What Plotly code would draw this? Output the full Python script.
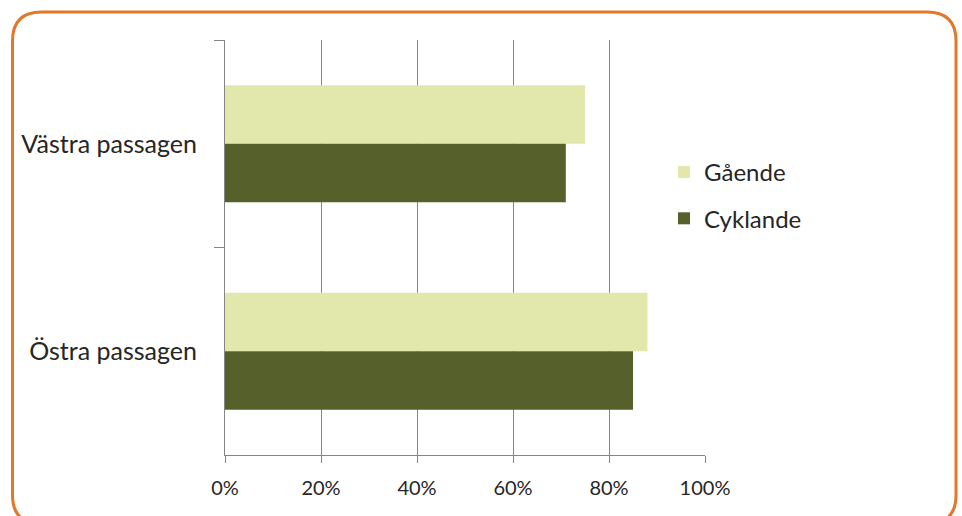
import plotly.graph_objects as go

categories = ["Västra passagen", "Östra passagen"]
gaende = [0.75, 0.88]
cyklande = [0.71, 0.85]
series_names = ["Gående", "Cyklande"]
colors = ["#e2e8ab", "#56602a"]
x_ticks = [0, 0.2, 0.4, 0.6, 0.8, 1.0]

W, H = 962, 516
L, R, T, B = 225, 705, 40, 455  # plot area in px

FONT = "Lato"
TXT = "#262626"
GRID = "#858585"

fig = go.Figure()
for name, vals, col in zip(series_names, [gaende, cyklande], colors):
    fig.add_trace(go.Bar(
        y=categories, x=vals, name=name, orientation="h",
        marker=dict(color=col, line=dict(width=0)),
        legendgroup=name,
    ))

def px2paper_x(px):
    return (px - L) / (R - L)

def px2paper_y(py):
    return (B - py) / (B - T)

# rounded orange frame
x0, x1, y0, y1, rr = 12.5, 956, 12, 524, 29
def P(x, y):
    return f"{px2paper_x(x):.5f},{px2paper_y(y):.5f}"
path = (
    f"M {P(x0 + rr, y0)} L {P(x1 - rr, y0)} Q {P(x1, y0)} {P(x1, y0 + rr)} "
    f"L {P(x1, y1 - rr)} Q {P(x1, y1)} {P(x1 - rr, y1)} "
    f"L {P(x0 + rr, y1)} Q {P(x0, y1)} {P(x0, y1 - rr)} "
    f"L {P(x0, y0 + rr)} Q {P(x0, y0)} {P(x0 + rr, y0)} Z"
)

fig.update_layout(
    width=W, height=H,
    margin=dict(l=L, r=W - R, t=T, b=H - B, pad=0),
    paper_bgcolor="white", plot_bgcolor="white",
    barmode="group", bargap=0.435, bargroupgap=0,
    font=dict(family=FONT, color=TXT),
    shapes=[dict(type="path", xref="paper", yref="paper", path=path,
                 line=dict(color="#e2782c", width=3), fillcolor="rgba(0,0,0,0)",
                 layer="above")],
    legend=dict(x=px2paper_x(664), y=px2paper_y(150), xanchor="left", yanchor="top",
                bgcolor="rgba(0,0,0,0)", font=dict(size=24, family=FONT, color=TXT),
                tracegroupgap=12, traceorder="grouped"),
    showlegend=True,
)

fig.update_xaxes(
    range=[0, 1], tickvals=x_ticks, tickformat=".0%",
    showgrid=True, gridcolor=GRID, gridwidth=1,
    showline=True, linecolor=GRID, linewidth=1,
    ticks="outside", ticklen=7, tickcolor=GRID,
    tickfont=dict(size=20, family=FONT, color=TXT),
    ticklabelstandoff=8, zeroline=False, fixedrange=True,
)
fig.update_yaxes(
    autorange="reversed", type="category",
    showline=True, linecolor=GRID, linewidth=1,
    ticks="outside", ticklen=10, tickcolor=GRID, tickson="boundaries",
    tickfont=dict(size=25, family=FONT, color=TXT),
    ticklabelstandoff=22, showgrid=False, fixedrange=True,
)

fig.write_html("out.html")
